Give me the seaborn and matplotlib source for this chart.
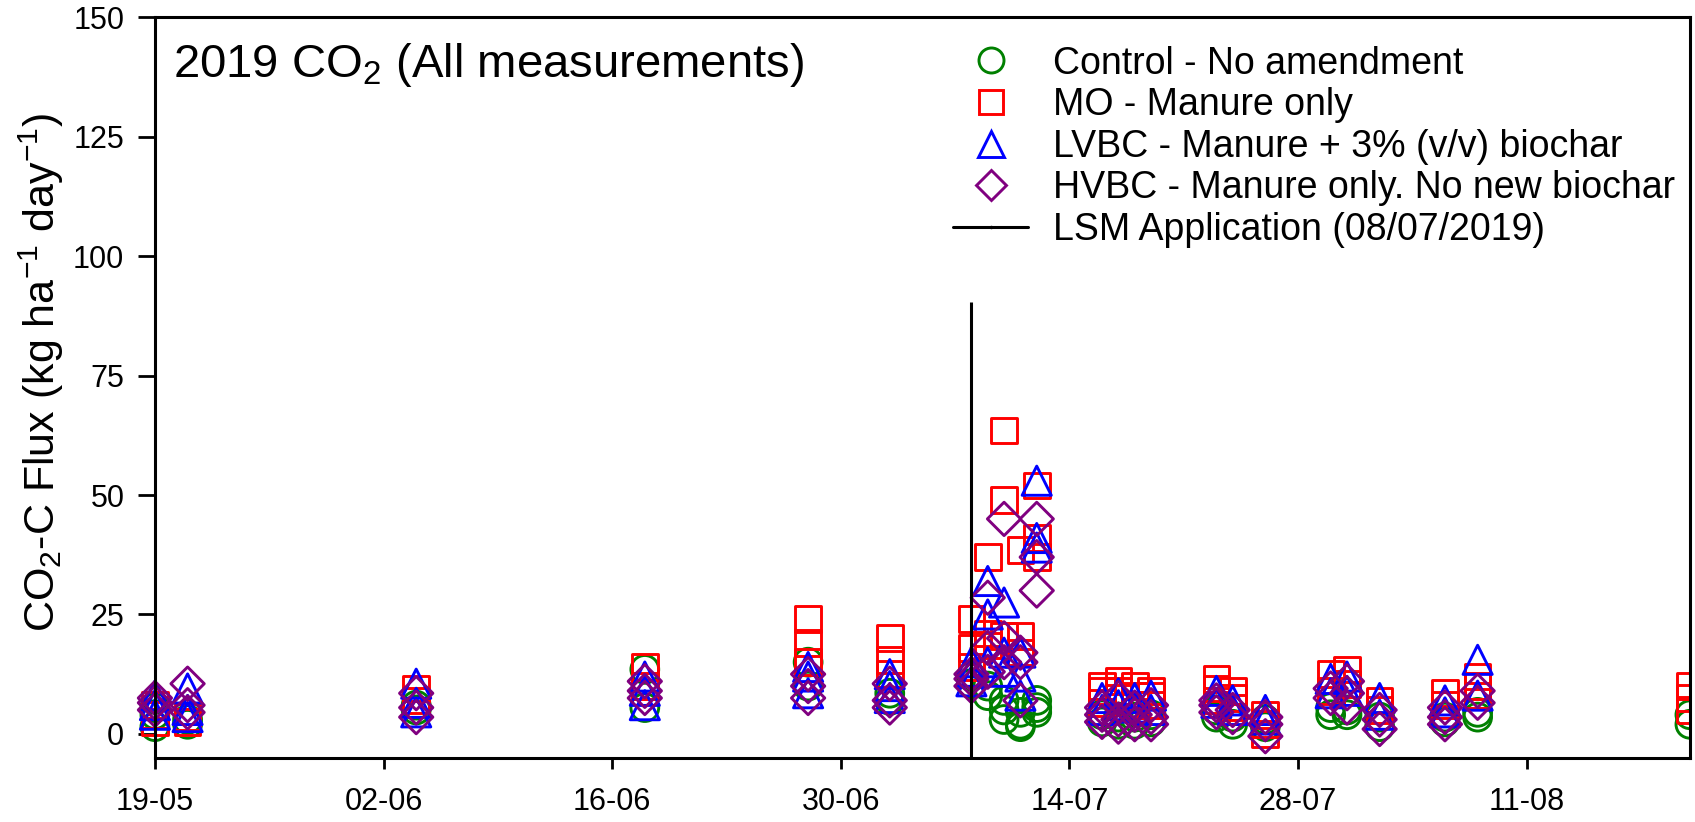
import numpy as np
import pandas as pd
import matplotlib
matplotlib.use("Agg")
import matplotlib.pyplot as plt
import matplotlib.dates as mdates
from matplotlib.lines import Line2D
from matplotlib.transforms import Bbox, TransformedBbox
import seaborn as sns

# ---- data -------------------------------------------------------------
sample_dates = [
    "2019-05-19", "2019-05-21", "2019-06-04", "2019-06-18", "2019-06-28",
    "2019-07-03", "2019-07-08", "2019-07-09", "2019-07-10", "2019-07-11",
    "2019-07-12", "2019-07-16", "2019-07-17", "2019-07-18", "2019-07-19",
    "2019-07-23", "2019-07-24", "2019-07-26", "2019-07-30", "2019-07-31",
    "2019-08-02", "2019-08-06", "2019-08-08", "2019-08-21",
]

# replicate fluxes (kg CO2-C ha-1 day-1) per sampling date
control_flux = [
    [1.5, 4, 5.5], [2, 3], [5, 6], [5.5, 13.5], [10, 15],
    [7, 8.5], [10.5, 12], [8, 10], [3, 5, 7], [1.5, 2, 4.5],
    [4.5, 5.5, 7], [2.5, 4], [2, 3.5], [2, 3.5], [2.5, 4],
    [3.5, 5], [2, 3.5], [1.5, 3], [4, 5.5], [4, 5],
    [1.5, 3.5], [2.5, 3.5], [3.5, 4.5], [2, 4],
]
mo_flux = [
    [2.5, 4, 6], [2.5, 3.5], [7, 9.5], [10, 14], [15, 19, 24],
    [12.5, 15.5, 20], [14, 18, 24], [18.5, 21, 37], [20.5, 49, 63.5], [17, 20.5, 38.5],
    [37, 41, 52], [6.5, 9, 10], [7.5, 9, 11], [6, 8, 10], [6, 8, 9],
    [7, 9.5, 11.5], [5.5, 7.5, 9], [0, 2, 4], [9, 12.5], [10.5, 13.5],
    [5, 7], [6, 8.5], [8, 10, 12], [5, 7.5, 10],
]
lvbc_flux = [
    [4, 6, 8], [3.5, 5, 9.5], [4.5, 6.5, 10.5], [6, 9, 12], [8.5, 12, 14],
    [7.5, 10, 12.5], [11, 13, 15], [15, 25, 32], [13, 17, 27.5], [8, 12, 17],
    [39, 41, 53], [5, 7.5], [6, 8.5], [5.5, 7.5], [5, 8],
    [6.5, 9], [5, 7], [3, 5], [8.5, 11.5], [9, 12],
    [4, 7.5], [4.5, 7], [8, 15.5], [],
]
hvbc_flux = [
    [5, 6.5, 7.5], [4.5, 6, 10.5], [3.5, 5.5, 8.5], [7.5, 9, 11], [7.5, 10, 12.5],
    [5.5, 7, 10.5], [10, 11.5, 12.5], [13, 18, 28.5], [15, 20, 45], [7, 15, 17],
    [30, 37, 45], [2.5, 4, 5.5], [1.5, 3, 7.5], [2, 4, 5.5], [2, 3.5, 6],
    [4.5, 6, 7], [3.5, 5], [-0.5, 2, 3.5], [7.5, 9.5], [5.5, 8.5, 11],
    [1, 3, 5], [2, 3.5, 5.5], [6.5, 9], [],
]

treatments = [
    "Control - No amendment",
    "MO - Manure only",
    "LVBC - Manure + 3% (v/v) biochar",
    "HVBC - Manure only. No new biochar",
]
treatment_flux = [control_flux, mo_flux, lvbc_flux, hvbc_flux]

lsm_label = "LSM Application (08/07/2019)"
lsm_date = "2019-07-08"
lsm_top = 90.5

x_ticks = ["2019-05-19", "2019-06-02", "2019-06-16", "2019-06-30",
           "2019-07-14", "2019-07-28", "2019-08-11"]
x_range = ["2019-05-19", "2019-08-21"]
y_ticks = [0, 25, 50, 75, 100, 125, 150]
y_range = [-5, 150]

# ---- long table -------------------------------------------------------
rows = []
for name, flux in zip(treatments, treatment_flux):
    for d, reps in zip(sample_dates, flux):
        for v in reps:
            rows.append({"date": pd.Timestamp(d), "flux": v, "treatment": name})
df = pd.DataFrame(rows)

# ---- styling ----------------------------------------------------------
sns.set_style("ticks")
plt.rcParams["font.family"] = ["Liberation Sans", "DejaVu Sans"]
plt.rcParams["mathtext.default"] = "regular"
for key in ["text.color", "axes.labelcolor", "xtick.color", "ytick.color",
            "axes.edgecolor"]:
    plt.rcParams[key] = "black"

colors = ["#008000", "#ff0000", "#0000ff", "#800080"]
markers = ["o", "s", "^", "D"]
msizes = [20, 18.5, 21, 17]
edge_w = 2.1

fig = plt.figure(figsize=(16.95, 8.22), dpi=100)
ax = fig.add_axes([0.0914, 0.0782, 0.9056, 0.9006])

clip = TransformedBbox(Bbox([[-0.1, -0.1], [1.0, 1.1]]), ax.transAxes)

for name, c, m, ms in zip(treatments, colors, markers, msizes):
    sub = df[df["treatment"] == name]
    sns.scatterplot(data=sub, x="date", y="flux", marker=m, s=ms ** 2,
                    facecolor="none", edgecolor=c, linewidth=edge_w,
                    ax=ax, legend=False)
for coll in ax.collections:
    coll.set_clip_box(clip)

# liquid slurry manure application
ax.vlines(pd.Timestamp(lsm_date), y_range[0], lsm_top, color="black", linewidth=2.2)

ax.set_xlim(pd.Timestamp(x_range[0]), pd.Timestamp(x_range[1]))
ax.set_ylim(*y_range)
ax.set_xticks([pd.Timestamp(t) for t in x_ticks])
ax.xaxis.set_major_formatter(mdates.DateFormatter("%d-%m"))
ax.set_yticks(y_ticks)

ax.set_xlabel("")
ax.set_ylabel("CO$_2$-C Flux (kg ha$^{-1}$ day$^{-1}$)", fontsize=31)
ax.yaxis.set_label_coords(-0.058, 0.52)

for side in ["left", "right", "top", "bottom"]:
    ax.spines[side].set_visible(True)
    ax.spines[side].set_linewidth(2.2)
ax.tick_params(axis="x", direction="out", length=8, width=2, pad=13, labelsize=22)
ax.tick_params(axis="y", direction="out", length=12, width=2, pad=10, labelsize=22)

ax.text(0.012, 0.968, "2019 CO$_2$ (All measurements)", transform=ax.transAxes,
        ha="left", va="top", fontsize=34)

handles = [
    Line2D([], [], linestyle="none", marker=m, markersize=ms * 0.9,
           markerfacecolor="none", markeredgecolor=c, markeredgewidth=edge_w)
    for c, m, ms in zip(colors, markers, msizes)
]
handles.append(Line2D([], [], color="black", linewidth=2.2, marker=".", markersize=3))
ax.legend(handles, treatments + [lsm_label], loc="upper left",
          bbox_to_anchor=(0.52, 0.962), frameon=False, fontsize=27,
          handlelength=2.0, handletextpad=0.67, labelspacing=0.15,
          borderpad=0, borderaxespad=0)

fig.savefig("out.png", dpi=100)
